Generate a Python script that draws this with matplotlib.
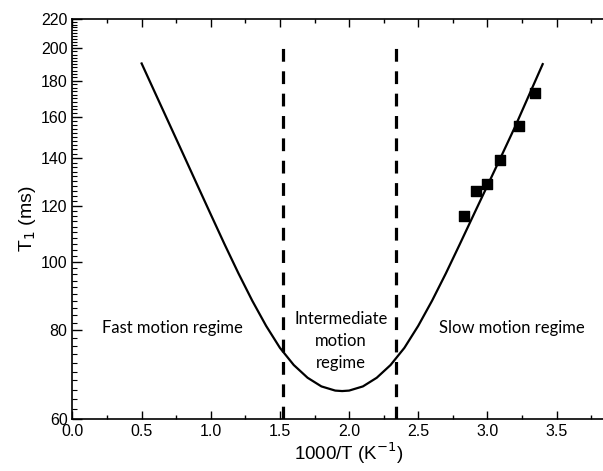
#!/usr/bin/env python3
"""Recreate the T1 vs 1000/T relaxation plot."""

import matplotlib

matplotlib.use("Agg")
import matplotlib.pyplot as plt
from matplotlib.ticker import FixedLocator, NullFormatter, FixedFormatter

# fitted curve
curve_x = [0.50, 0.60, 0.70, 0.80, 0.90, 1.00, 1.10, 1.20, 1.30, 1.40, 1.50, 1.60,
           1.70, 1.80, 1.90, 1.95, 2.00, 2.10, 2.20, 2.30, 2.40, 2.50, 2.60, 2.70,
           2.80, 2.90, 3.00, 3.10, 3.20, 3.30, 3.40]
curve_t1 = [190.4, 172.6, 156.5, 141.9, 128.6, 116.6, 105.8, 96.3, 88.1, 81.2, 75.6, 71.5,
            68.6, 66.7, 65.8, 65.7, 65.8, 66.7, 68.6, 71.5, 75.6, 81.2, 88.1, 96.3,
            105.8, 116.4, 128.0, 140.8, 155.0, 171.6, 190.0]

# measured points
meas_x = [2.831, 2.915, 2.999, 3.093, 3.231, 3.342]
meas_t1 = [115.9, 125.8, 128.7, 139.1, 155.5, 172.8]

# regime boundaries
boundary_x = [1.52, 2.34]
boundary_top = 202.0

x_ticks = [0.0, 0.5, 1.0, 1.5, 2.0, 2.5, 3.0, 3.5]
x_minor = [0.25, 0.75, 1.25, 1.75, 2.25, 2.75, 3.25, 3.75]
y_ticks = [60, 80, 100, 120, 140, 160, 180, 200, 220]
y_minor = list(range(60, 222, 2))

plt.rcParams["font.family"] = ["Liberation Sans", "DejaVu Sans"]

fig = plt.figure(figsize=(6.03, 4.71), dpi=100)
ax = fig.add_axes([0.1202, 0.1104, 0.9174, 0.8493])

ax.plot(curve_x, curve_t1, color="black", linewidth=1.6, solid_joinstyle="round")
ax.scatter(meas_x, meas_t1, marker="s", s=48, color="black", zorder=3)
for bx in boundary_x:
    ax.plot([bx, bx], [60, boundary_top], color="black", linewidth=2.3,
            linestyle=(0, (4, 3)))

ax.set_yscale("log")
ax.set_xlim(0, 4.0)
ax.set_ylim(60, 220)
ax.yaxis.set_major_locator(FixedLocator(y_ticks))
ax.yaxis.set_major_formatter(FixedFormatter([str(v) for v in y_ticks]))
ax.yaxis.set_minor_locator(FixedLocator(y_minor))
ax.yaxis.set_minor_formatter(NullFormatter())
ax.xaxis.set_major_locator(FixedLocator(x_ticks))
ax.xaxis.set_major_formatter(FixedFormatter([f"{v:.1f}" for v in x_ticks]))
ax.xaxis.set_minor_locator(FixedLocator(x_minor))

ax.tick_params(axis="both", which="both", direction="in", labelsize=11.5)
ax.tick_params(axis="x", which="major", length=6, width=1, top=True, bottom=True)
ax.tick_params(axis="x", which="minor", length=3, width=1, top=True, bottom=True)
ax.tick_params(axis="y", which="major", length=7, width=1, left=True, right=False)
ax.tick_params(axis="y", which="minor", length=3.5, width=0.8, left=True, right=False)
ax.spines["right"].set_visible(False)
for side in ("left", "bottom", "top"):
    ax.spines[side].set_linewidth(1.2)

ax.set_xlabel("1000/T (K$^{-1}$)", fontsize=13.5, labelpad=1)
ax.set_ylabel("T$_1$ (ms)", fontsize=14, labelpad=2)

label_font = ["Lato", "DejaVu Sans"]
ax.text(0.72, 80.7, "Fast motion regime", ha="center", va="center",
        fontsize=12, family=label_font)
ax.text(1.94, 77.3, "Intermediate\nmotion\nregime", ha="center", va="center",
        fontsize=12, family=label_font, linespacing=1.45)
ax.text(3.18, 80.7, "Slow motion regime", ha="center", va="center",
        fontsize=12, family=label_font)

fig.savefig("out.png", dpi=100)
